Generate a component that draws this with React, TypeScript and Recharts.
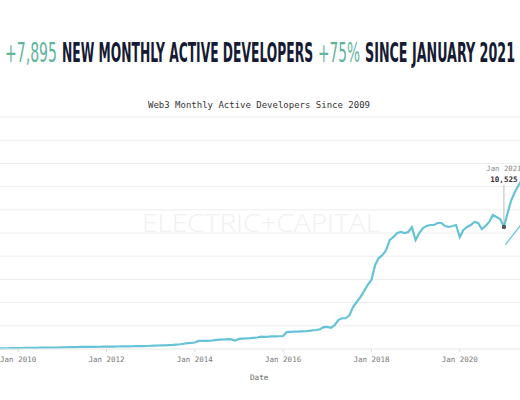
import React from "react";
import { LineChart, Line, XAxis, YAxis, CartesianGrid, ReferenceDot } from "recharts";

const years: number[] = [2009, 2010, 2011, 2012, 2013, 2014, 2015, 2016, 2017, 2018, 2019, 2020, 2021];
const monthNames: string[] = ["Jan", "Feb", "Mar", "Apr", "May", "Jun", "Jul", "Aug", "Sep", "Oct", "Nov", "Dec"];

const devs2009 = [20, 25, 30, 35, 40, 45, 50, 55, 60, 65, 70, 75];
const devs2010 = [80, 85, 90, 95, 100, 105, 110, 110, 115, 120, 125, 130];
const devs2011 = [140, 150, 160, 165, 170, 175, 180, 180, 185, 190, 195, 200];
const devs2012 = [200, 205, 210, 215, 220, 225, 230, 235, 240, 250, 255, 260];
const devs2013 = [280, 290, 300, 310, 320, 335, 350, 380, 410, 450, 500, 520];
const devs2014 = [560, 700, 700, 700, 710, 740, 780, 800, 820, 850, 830, 720];
const devs2015 = [870, 900, 910, 930, 960, 990, 1060, 1050, 1060, 1080, 1090, 1100];
const devs2016 = [1120, 1450, 1480, 1490, 1500, 1520, 1530, 1560, 1600, 1640, 1700, 1880];
const devs2017 = [1900, 1820, 2050, 2500, 2650, 2650, 2900, 3620, 4050, 4480, 5000, 5520];
const devs2018 = [5950, 7240, 7840, 8100, 8530, 9400, 9650, 10000, 10090, 10000, 10090, 10500];
const devs2019 = [9400, 10000, 10430, 10600, 10690, 10690, 10860, 10860, 10600, 10520, 10600, 10690];
const devs2020 = [9650, 10260, 10520, 10690, 10950, 10860, 10340, 10600, 10950, 11550, 11380, 11200];
const devs2021 = [10525, 11720, 12840, 13530, 14140, 14600, 15200, 15800, 16500, 17200, 17800, 18420];

const devsByYear: number[][] = [
  devs2009, devs2010, devs2011, devs2012, devs2013, devs2014, devs2015,
  devs2016, devs2017, devs2018, devs2019, devs2020, devs2021,
];

const xTicks: number[] = [12, 36, 60, 84, 108, 132];
const yTicks: number[] = [0, 2000, 4000, 6000, 8000, 10000, 12000, 14000, 16000, 18000, 20000];

const trendLine = [
  { t: 144.4, v: 9000 },
  { t: 155, v: 13300 },
];

const headlineParts: string[] = ["+7,895", "NEW MONTHLY ACTIVE DEVELOPERS", "+75%", "SINCE JANUARY 2021"];

const highlightIndex = 144; // Jan 2021

const data = years.flatMap((yr, i) =>
  devsByYear[i].map((v, m) => ({ t: i * 12 + m, label: `${monthNames[m]} ${yr}`, devs: v }))
);

const LINE = "#65c3d8";
const GREEN = "#5fb59c";
const NAVY = "#161b33";
const MONO = "'DejaVu Sans Mono', 'Liberation Mono', monospace";
const HEAD_FONT = "'Liberation Sans Narrow', 'DejaVu Sans Condensed', 'Roboto', sans-serif";

const headlineLayout = [
  { x: 5, w: 52, fill: GREEN, weight: 400 },
  { x: 62, w: 251, fill: NAVY, weight: 700 },
  { x: 318, w: 42, fill: GREEN, weight: 400 },
  { x: 365, w: 150, fill: NAVY, weight: 700 },
];

const AnnotationShape = (props: any) => {
  const { cx, cy } = props;
  if (cx == null || cy == null) return null;
  const p = data[highlightIndex];
  return (
    <g>
      <line x1={cx} x2={cx} y1={cy - 3} y2={cy - 42} stroke="#aaaaaa" strokeWidth={0.8} />
      <text x={cx} y={cy - 56} textAnchor="middle" fontFamily={MONO} fontSize={7.3} fill="#888">
        {p.label}
      </text>
      <text x={cx} y={cy - 44.5} textAnchor="middle" fontFamily={MONO} fontSize={7.6} fontWeight={700} fill="#333">
        {p.devs.toLocaleString("en-US")}
      </text>
      <circle cx={cx} cy={cy} r={2.2} fill="#555" />
    </g>
  );
};

export default function App() {
  return (
    <div
      style={{
        position: "fixed",
        left: 0,
        top: 0,
        width: 520,
        height: 400,
        overflow: "hidden",
        background: "#ffffff",
      }}
    >
      <svg width={520} height={400} style={{ position: "absolute", left: 0, top: 0 }}>
        {headlineParts.map((txt, i) => (
          <text
            key={i}
            x={0}
            y={0}
            transform={`translate(${headlineLayout[i].x},62) scale(1,2.09)`}
            textLength={headlineLayout[i].w}
            lengthAdjust="spacingAndGlyphs"
            fontFamily={HEAD_FONT}
            fontSize={13}
            fontWeight={headlineLayout[i].weight}
            fill={headlineLayout[i].fill}
          >
            {txt}
          </text>
        ))}
        <text
          x={259}
          y={107.5}
          textAnchor="middle"
          textLength={222}
          lengthAdjust="spacingAndGlyphs"
          fontFamily={MONO}
          fontSize={9}
          fill="#333"
        >
          Web3 Monthly Active Developers Since 2009
        </text>
        <text
          x={142}
          y={232}
          textLength={238}
          lengthAdjust="spacingAndGlyphs"
          fontFamily="'Open Sans', 'Inter', sans-serif"
          fontWeight={300}
          fontSize={25}
          fill="#f1f1f1"
        >
          ELECTRIC+CAPITAL
        </text>
      </svg>
      <div style={{ position: "absolute", left: -46.2, top: 0 }}>
        <LineChart
          width={620}
          height={400}
          data={data}
          margin={{ top: 117, right: 29.6, bottom: 0, left: 20 }}
        >
          <CartesianGrid horizontal vertical={false} stroke="#eeeeee" />
          <XAxis
            dataKey="t"
            type="number"
            domain={[0, 155]}
            ticks={xTicks}
            height={51}
            tickFormatter={(t: number) => data[t]?.label ?? ""}
            tick={{ fontSize: 7.5, fill: "#777", fontFamily: MONO }}
            tickLine={{ stroke: "#dddddd" }}
            tickSize={3}
            tickMargin={5}
            axisLine={{ stroke: "#eeeeee" }}
            label={{
              value: "Date",
              position: "insideBottom",
              offset: 20,
              style: { fontSize: 7.6, fill: "#666", fontFamily: MONO },
            }}
          />
          <YAxis hide domain={[0, 20000]} ticks={yTicks} />
          <Line
            type="linear"
            dataKey="devs"
            stroke={LINE}
            strokeWidth={2.2}
            dot={false}
            isAnimationActive={false}
          />
          <Line
            data={trendLine}
            type="linear"
            dataKey="v"
            stroke={LINE}
            strokeWidth={1.2}
            dot={false}
            isAnimationActive={false}
          />
          <ReferenceDot
            x={data[highlightIndex].t}
            y={data[highlightIndex].devs}
            r={2}
            shape={AnnotationShape}
          />
        </LineChart>
      </div>
    </div>
  );
}
